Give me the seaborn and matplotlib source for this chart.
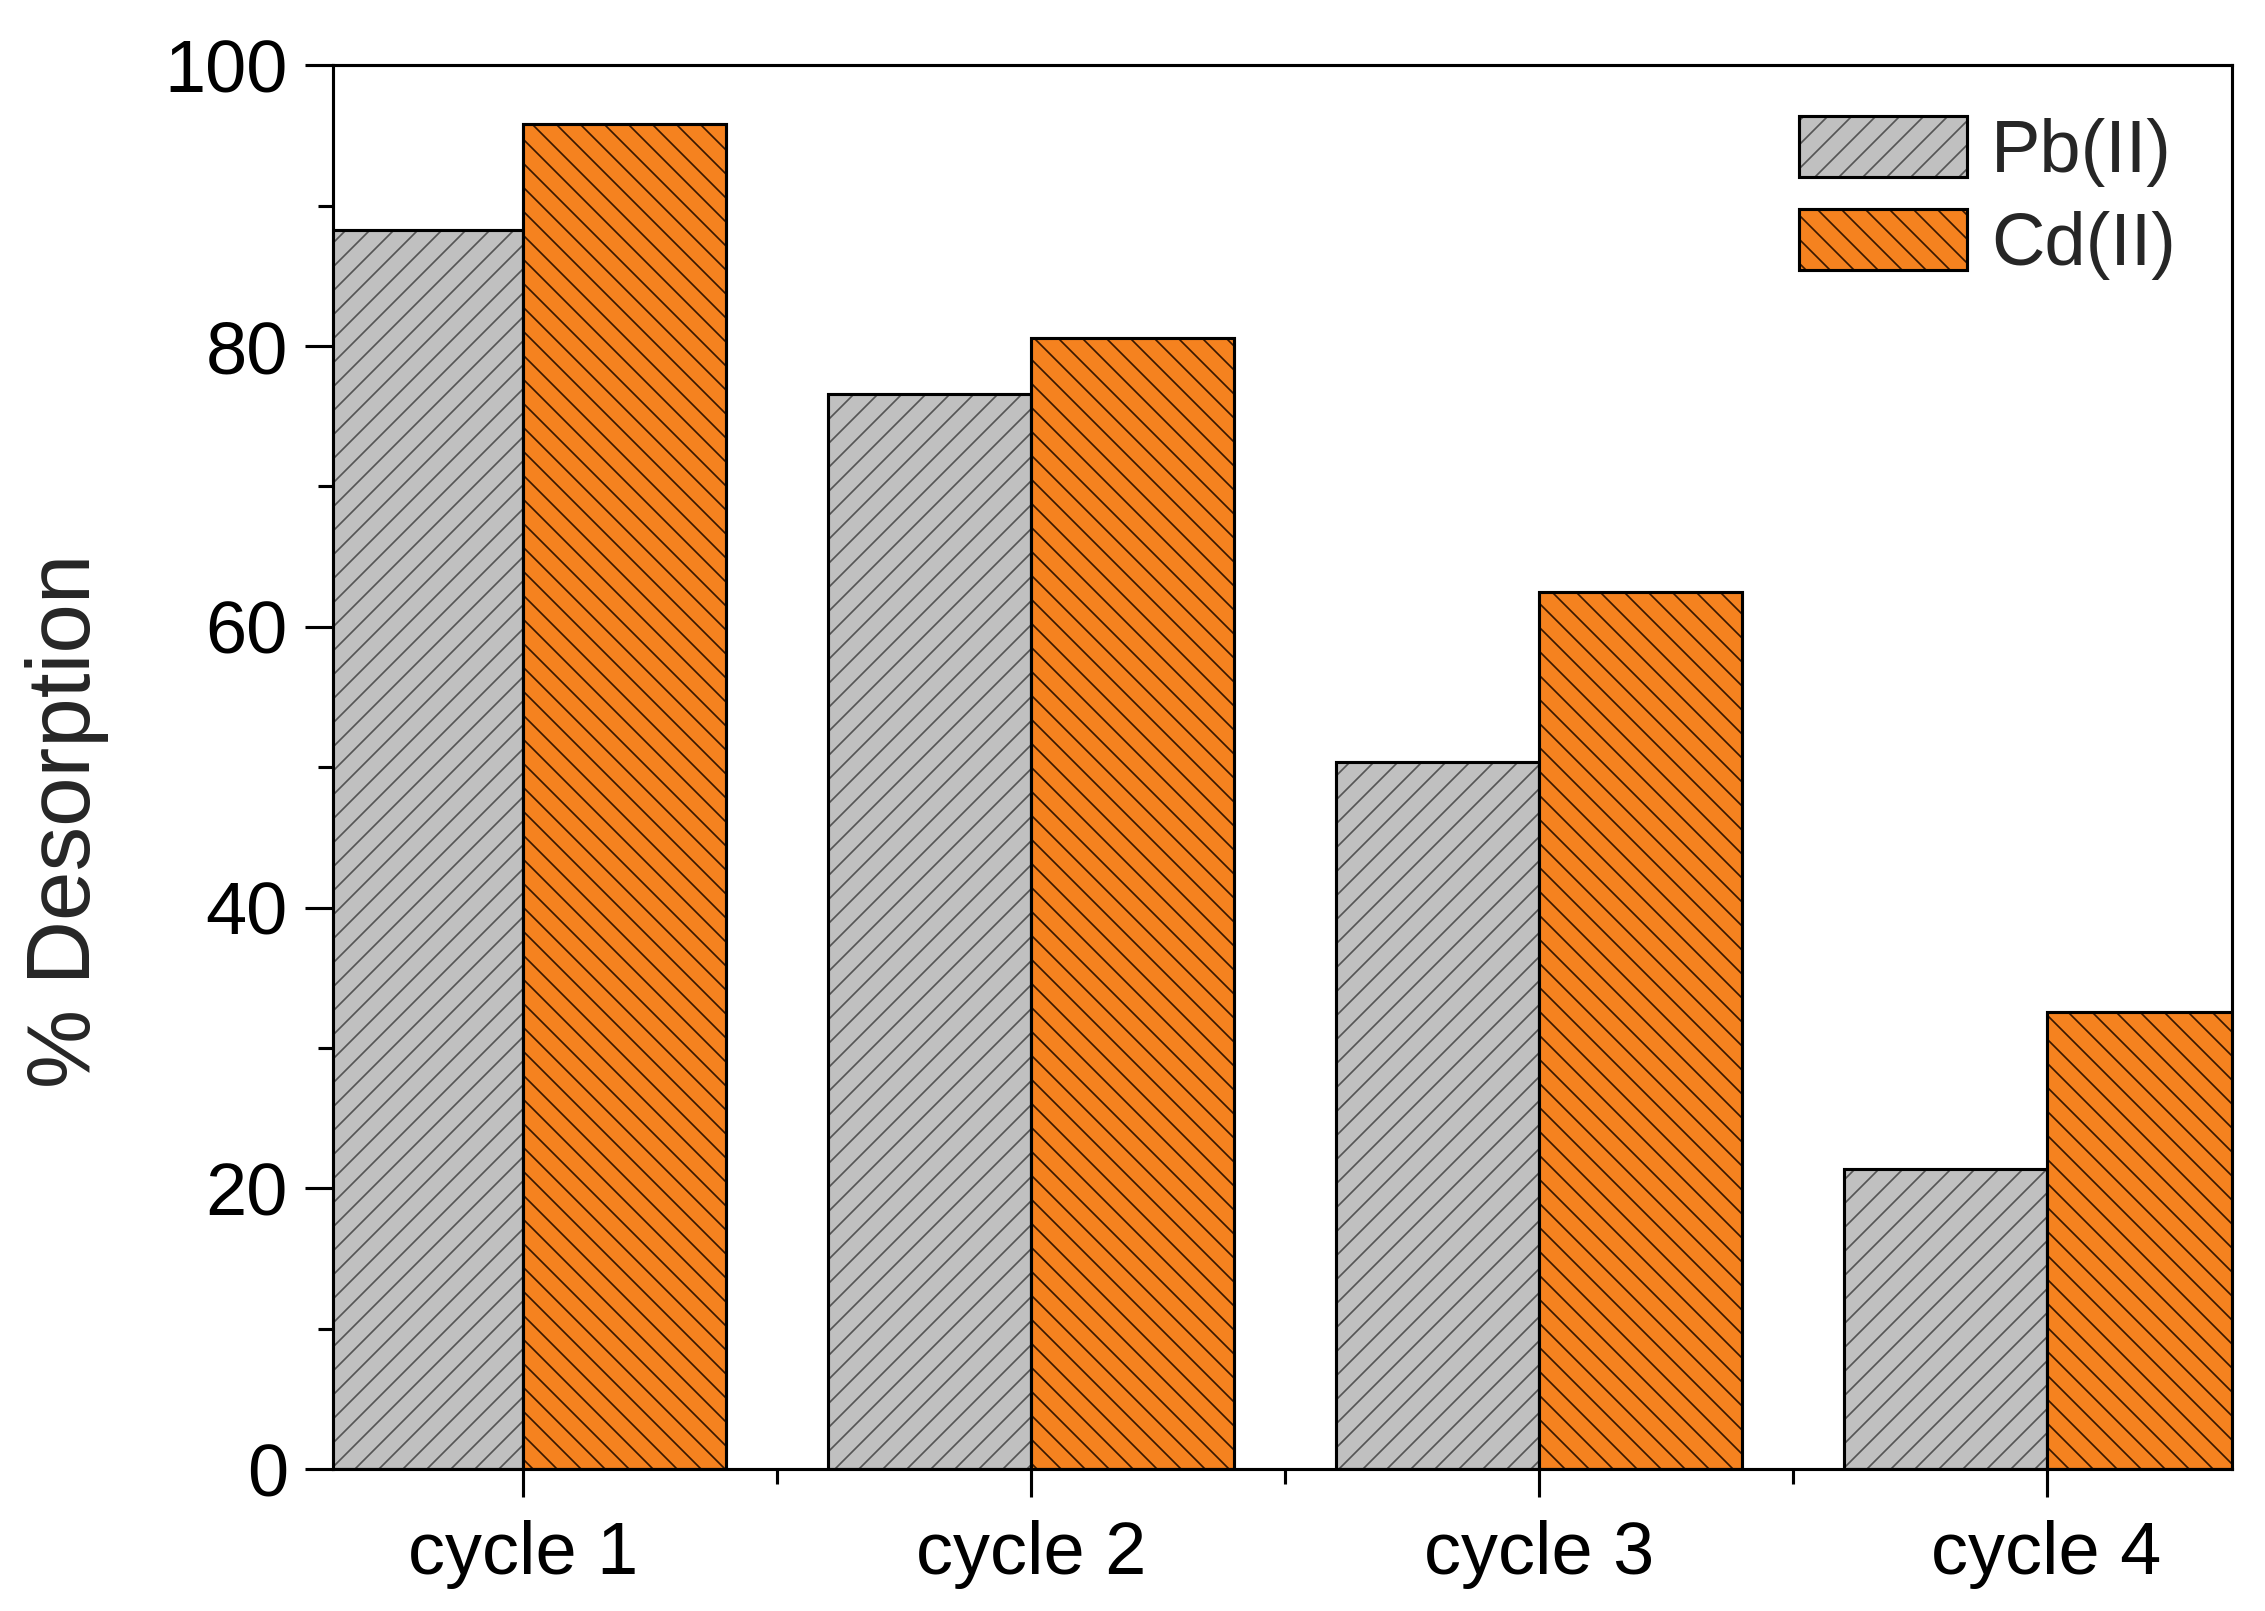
import matplotlib
matplotlib.use('Agg')
import matplotlib.pyplot as plt
import pandas as pd
import seaborn as sns
from matplotlib.colors import to_rgba
from matplotlib.patches import Patch
from matplotlib.ticker import FixedLocator, MultipleLocator

# valores
ciclos = ['cycle 1', 'cycle 2', 'cycle 3', 'cycle 4']
metais = ['Pb(II)', 'Cd(II)']
pb = [88.3, 76.6, 50.4, 21.4]
cd = [95.8, 80.6, 62.5, 32.6]
cores = ['#c0c0c0', '#f5821f']
cores_hachura = ['#555555', '#3a1800']
hachuras = ['/', '\\']

df = pd.DataFrame({
    'ciclo': ciclos * 2,
    'metal': [m for m in metais for _ in ciclos],
    'valor': pb + cd,
})

sns.set_theme(style='ticks')
plt.rcParams['font.family'] = ['Liberation Sans', 'DejaVu Sans']
plt.rcParams['hatch.linewidth'] = 1.7

# dpi 72: 1 pt = 1 px, hachura '/' com ~12 px de espaçamento
DPI = 72
LW = 3.1
fig = plt.figure(figsize=(2265 / DPI, 1611 / DPI), dpi=DPI)
ax = fig.add_axes([0.147, 0.088, 0.8384, 0.8715])

sns.barplot(data=df, x='ciclo', y='valor', hue='metal', palette=cores,
            saturation=1, edgecolor='black', linewidth=LW, width=0.8,
            errorbar=None, legend=False, ax=ax)


def _hachurar(p, h, cor):
    """Hachura com cor própria, mantendo a borda preta."""
    p.set_hatch(h)
    if hasattr(p, 'set_hatchcolor'):
        p.set_hatchcolor(cor)
    else:
        p._hatch_color = to_rgba(cor)


for cont, h, hc in zip(ax.containers, hachuras, cores_hachura):
    for p in cont.patches:
        _hachurar(p, h, hc)

ax.set_xlim(-0.375, 3.365)
ax.set_ylim(0, 100)
ax.set_xlabel('')
ax.set_ylabel('% Desorption', fontsize=89)
ax.yaxis.set_label_coords(-0.118, 0.462)

ax.yaxis.set_major_locator(MultipleLocator(20))
ax.yaxis.set_minor_locator(MultipleLocator(10))
ax.xaxis.set_minor_locator(FixedLocator([0.5, 1.5, 2.5]))
ax.tick_params(which='major', direction='out', length=28, width=LW,
               labelsize=74, color='black', labelcolor='black')
ax.tick_params(axis='y', which='major', pad=17)
ax.tick_params(axis='x', which='major', pad=23)
ax.tick_params(which='minor', direction='out', length=15, width=LW,
               color='black')
for s in ax.spines.values():
    s.set_linewidth(LW)
    s.set_color('black')

handles = []
for c, h, hc in zip(cores, hachuras, cores_hachura):
    ph = Patch(facecolor=c, edgecolor='black', linewidth=LW)
    _hachurar(ph, h, hc)
    handles.append(ph)
ax.legend(handles, metais, loc='upper right', bbox_to_anchor=(0.9704, 0.9636),
          frameon=False, fontsize=74, handlelength=2.27, handleheight=0.89,
          handletextpad=0.32, labelspacing=0.29, borderpad=0,
          borderaxespad=0)

fig.savefig('out.png', dpi=DPI)
